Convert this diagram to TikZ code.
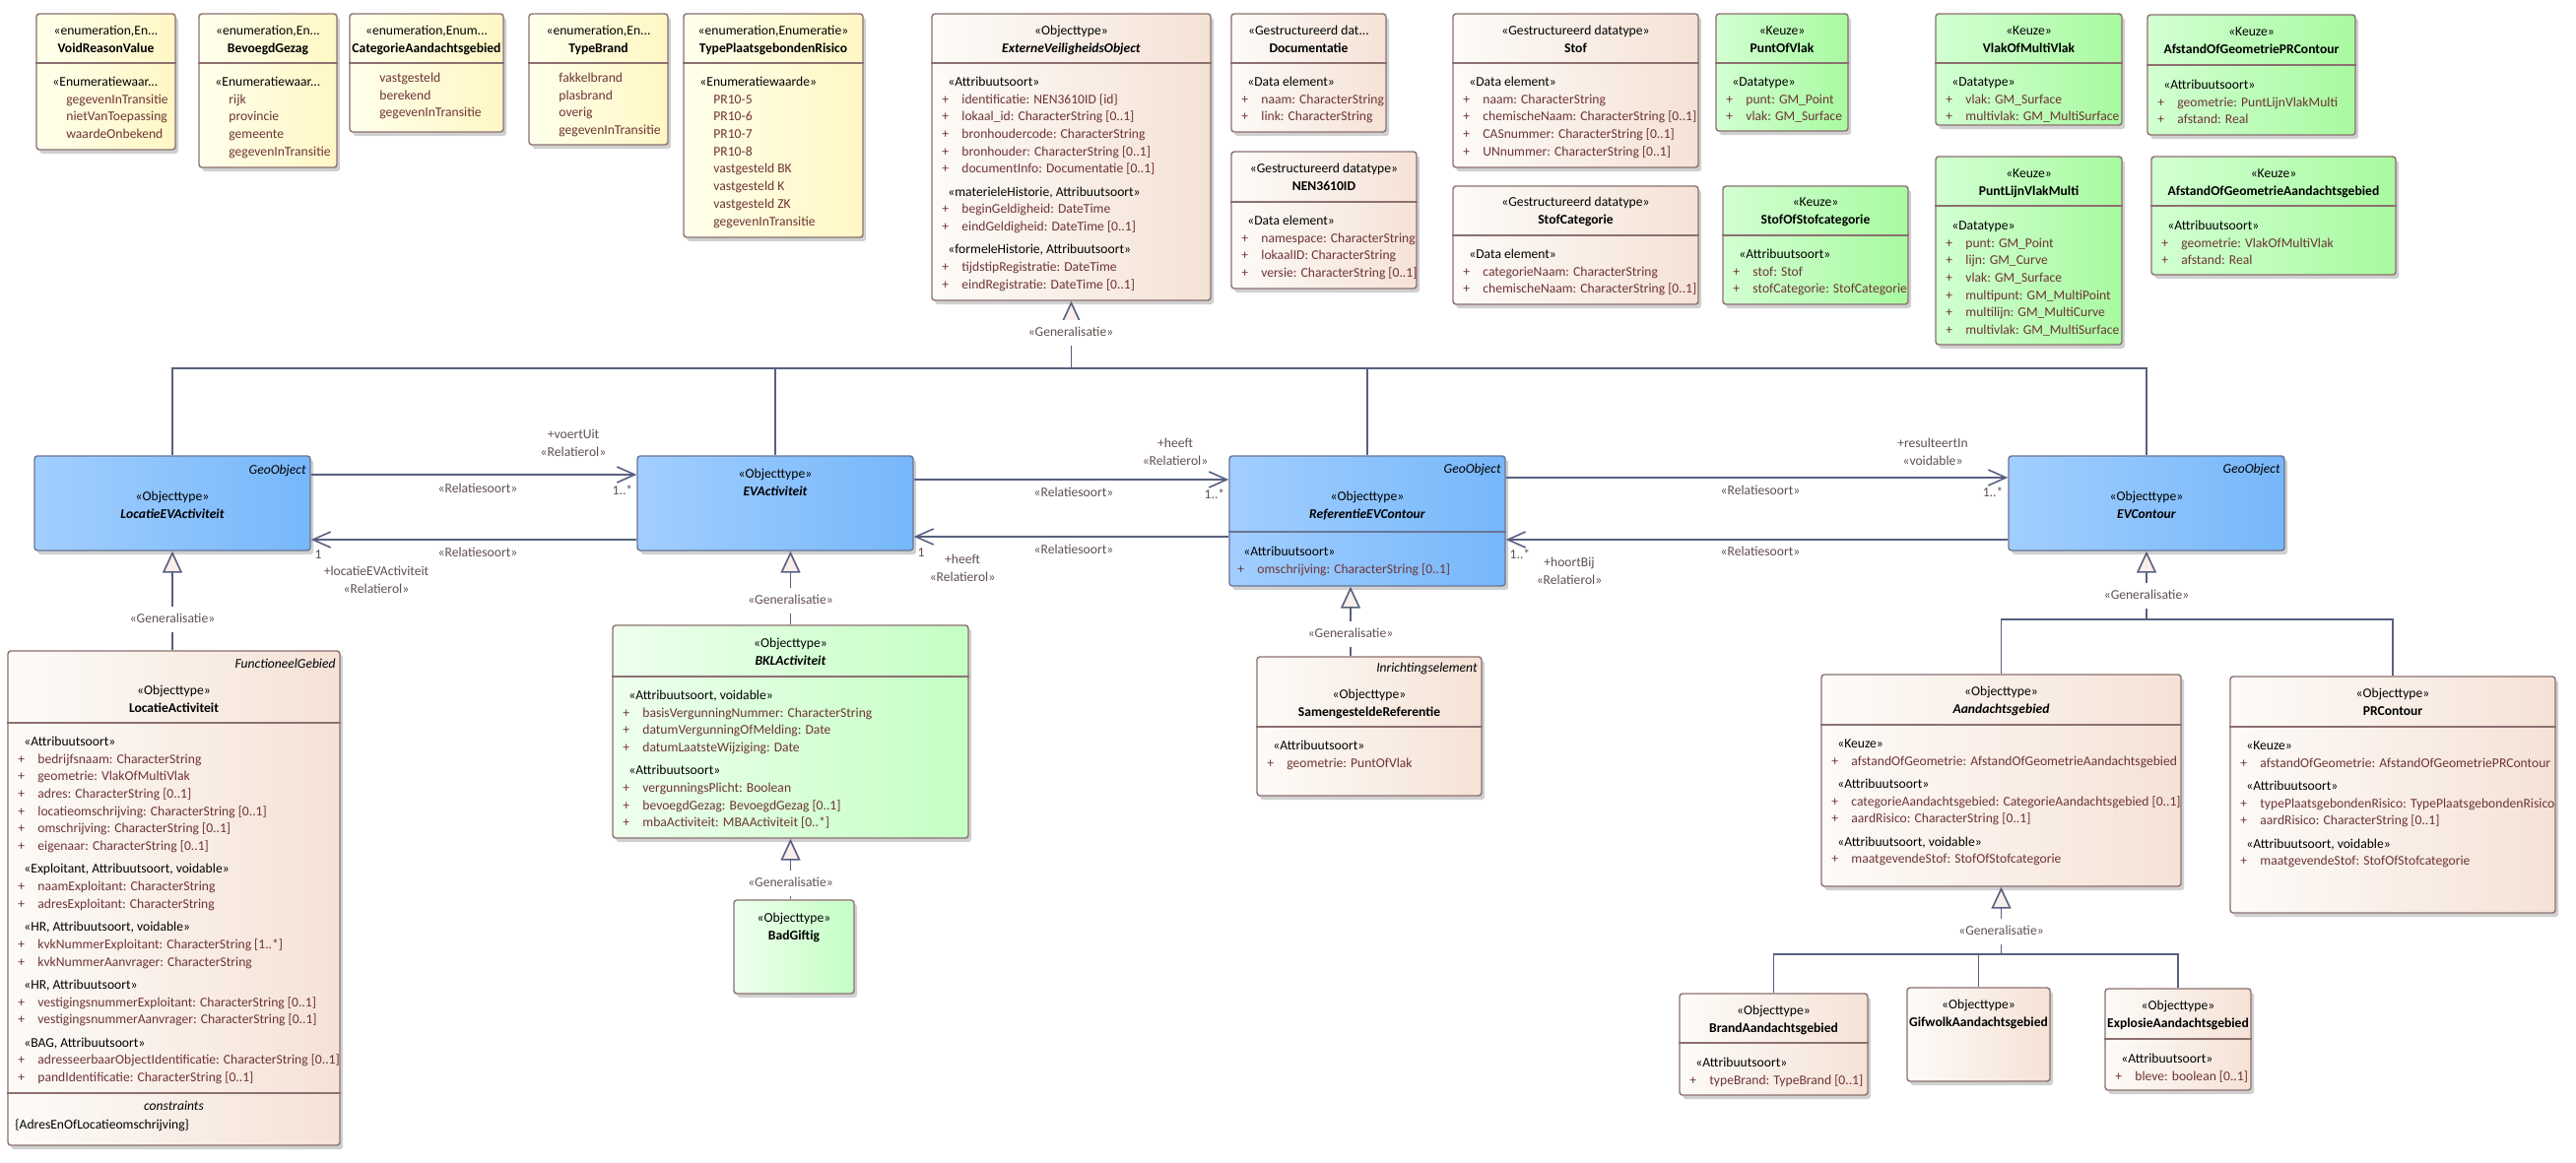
\documentclass[tikz,border=0pt]{standalone}
\usepackage{fontspec}
\setmainfont{Carlito}
\usetikzlibrary{arrows.meta,fit,shadows,calc}

\definecolor{enumL}{RGB}{255,255,236}
\definecolor{enumR}{RGB}{255,247,196}
\definecolor{peachL}{RGB}{253,251,248}
\definecolor{peachR}{RGB}{245,226,214}
\definecolor{keuzeL}{RGB}{210,255,210}
\definecolor{keuzeR}{RGB}{168,250,160}
\definecolor{bklL}{RGB}{238,255,238}
\definecolor{bklR}{RGB}{196,255,196}
\definecolor{blueL}{RGB}{162,206,255}
\definecolor{blueR}{RGB}{118,183,250}
\definecolor{boxline}{RGB}{140,112,112}
\definecolor{blueline}{RGB}{104,118,150}
\definecolor{conn}{RGB}{88,96,128}
\definecolor{attrtxt}{RGB}{110,52,52}
\definecolor{lbltxt}{RGB}{96,80,80}
\definecolor{genfill}{RGB}{248,238,234}

\newcommand\umlfont{\fontsize{6.8}{8.85}\selectfont}
\newcommand\ster[1]{\strut\hspace*{3pt}«#1»}
\newcommand\attr[1]{\strut\textcolor{attrtxt}{\makebox[10pt][l]{+}#1}}
\newcommand\val[1]{\strut\hspace*{10pt}\textcolor{attrtxt}{#1}}

\begin{document}
\begin{tikzpicture}[x=0.5pt,y=-0.5pt,
  box/.style={draw=boxline,line width=0.7pt,rounded corners=1.5pt,inner sep=0pt,
    drop shadow={shadow xshift=1.6pt,shadow yshift=-2pt,opacity=0.3,fill=black!60}},
  enumbox/.style={box,left color=enumL,right color=enumR},
  peachbox/.style={box,left color=peachL,right color=peachR},
  keuzebox/.style={box,left color=keuzeL,right color=keuzeR},
  lightgreen/.style={box,left color=bklL,right color=bklR},
  geobox/.style={box,draw=blueline,left color=blueL,right color=blueR},
  divider/.style={draw=boxline,line width=0.6pt},
  hd/.style={anchor=north,align=center,inner sep=0pt,font=\umlfont},
  body/.style={anchor=north west,align=left,inner sep=0pt,font=\umlfont},
  tag/.style={anchor=north east,inner sep=0pt,font=\umlfont\itshape},
  link/.style={draw=conn,line width=0.8pt},
  genarrow/.style={link,-{Triangle[length=11pt,width=10pt,fill=genfill]}},
  assoc/.style={link,-{Straight Barb[length=9pt,width=8pt]}},
  lbl/.style={anchor=north,align=center,inner sep=0pt,font=\umlfont,text=lbltxt},
  genlbl/.style={lbl,fill=white,inner ysep=2pt,inner xsep=1pt}]
\path[use as bounding box,fill=white] (0,0) rectangle (2615,1180);

% enumerations
\node[enumbox,fit={(37,14)(178,152)}] (void) {};
\draw[divider] (void.west |- 0,64) -- (void.east |- 0,64);
\node[hd] at (107.5,22.6) {\strut«enumeration,En...\\\strut\textbf{VoidReasonValue}};
\node[body] at (47,74.6) {\strut\hspace*{3pt}«Enumeratiewaar...\\\val{gegevenInTransitie}\\\val{nietVanToepassing}\\\val{waardeOnbekend}};

\node[enumbox,fit={(202,14)(342,170)}] (bevoegd) {};
\draw[divider] (bevoegd.west |- 0,64) -- (bevoegd.east |- 0,64);
\node[hd] at (272,22.6) {\strut«enumeration,En...\\\strut\textbf{BevoegdGezag}};
\node[body] at (212,74.6) {\strut\hspace*{3pt}«Enumeratiewaar...\\\val{rijk}\\\val{provincie}\\\val{gemeente}\\\val{gegevenInTransitie}};

\node[enumbox,fit={(355,14)(511,134)}] (catgebied) {};
\draw[divider] (catgebied.west |- 0,64) -- (catgebied.east |- 0,64);
\node[hd] at (433,22.6) {\strut«enumeration,Enum...\\\strut\textbf{CategorieAandachtsgebied}};
\node[body] at (365,70.6) {\val{vastgesteld}\\\val{berekend}\\\val{gegevenInTransitie}};

\node[enumbox,fit={(537,14)(678,147)}] (typebrand) {};
\draw[divider] (typebrand.west |- 0,64) -- (typebrand.east |- 0,64);
\node[hd] at (607.5,22.6) {\strut«enumeration,En...\\\strut\textbf{TypeBrand}};
\node[body] at (547,70.6) {\val{fakkelbrand}\\\val{plasbrand}\\\val{overig}\\\val{gegevenInTransitie}};

\node[enumbox,fit={(694,14)(876,241)}] (typepr) {};
\draw[divider] (typepr.west |- 0,64) -- (typepr.east |- 0,64);
\node[hd] at (785,22.6) {\strut«enumeration,Enumeratie»\\\strut\textbf{TypePlaatsgebondenRisico}};
\node[body] at (704,74.6) {\ster{Enumeratiewaarde}\\\val{PR10-5}\\\val{PR10-6}\\\val{PR10-7}\\\val{PR10-8}\\\val{vastgesteld BK}\\\val{vastgesteld K}\\\val{vastgesteld ZK}\\\val{gegevenInTransitie}};

% data types
\node[peachbox,fit={(946,14)(1229,305)}] (evo) {};
\draw[divider] (evo.west |- 0,64) -- (evo.east |- 0,64);
\node[hd] at (1087.5,22.6) {\strut«Objecttype»\\\strut\textbf{\textit{ExterneVeiligheidsObject}}};
\node[body] at (956,74.6) {\ster{Attribuutsoort}\\\attr{identificatie: NEN3610ID \{id\}}\\\attr{lokaal\_id: CharacterString [0..1]}\\\attr{bronhoudercode: CharacterString}\\\attr{bronhouder: CharacterString [0..1]}\\\attr{documentInfo: Documentatie [0..1]}\\[2.8pt]\ster{materieleHistorie, Attribuutsoort}\\\attr{beginGeldigheid: DateTime}\\\attr{eindGeldigheid: DateTime [0..1]}\\[2.8pt]\ster{formeleHistorie, Attribuutsoort}\\\attr{tijdstipRegistratie: DateTime}\\\attr{eindRegistratie: DateTime [0..1]}};

\node[peachbox,fit={(1250,14)(1407,134)}] (doc) {};
\draw[divider] (doc.west |- 0,64) -- (doc.east |- 0,64);
\node[hd] at (1328.5,22.6) {\strut«Gestructureerd dat...\\\strut\textbf{Documentatie}};
\node[body] at (1260,74.6) {\ster{Data element}\\\attr{naam: CharacterString}\\\attr{link: CharacterString}};

\node[peachbox,fit={(1250,154)(1438,293)}] (nen) {};
\draw[divider] (nen.west |- 0,205) -- (nen.east |- 0,205);
\node[hd] at (1344,162.6) {\strut«Gestructureerd datatype»\\\strut\textbf{NEN3610ID}};
\node[body] at (1260,215.6) {\ster{Data element}\\\attr{namespace: CharacterString}\\\attr{lokaalID: CharacterString}\\\attr{versie: CharacterString [0..1]}};

\node[peachbox,fit={(1475,14)(1724,170)}] (stof) {};
\draw[divider] (stof.west |- 0,64) -- (stof.east |- 0,64);
\node[hd] at (1599.5,22.6) {\strut«Gestructureerd datatype»\\\strut\textbf{Stof}};
\node[body] at (1485,74.6) {\ster{Data element}\\\attr{naam: CharacterString}\\\attr{chemischeNaam: CharacterString [0..1]}\\\attr{CASnummer: CharacterString [0..1]}\\\attr{UNnummer: CharacterString [0..1]}};

\node[peachbox,fit={(1475,189)(1724,309)}] (stofcat) {};
\draw[divider] (stofcat.west |- 0,239) -- (stofcat.east |- 0,239);
\node[hd] at (1599.5,196.6) {\strut«Gestructureerd datatype»\\\strut\textbf{StofCategorie}};
\node[body] at (1485,249.6) {\ster{Data element}\\\attr{categorieNaam: CharacterString}\\\attr{chemischeNaam: CharacterString [0..1]}};

% keuze types
\node[keuzebox,fit={(1742,14)(1876,133)}] (puntofvlak) {};
\draw[divider] (puntofvlak.west |- 0,64) -- (puntofvlak.east |- 0,64);
\node[hd] at (1809,22.6) {\strut«Keuze»\\\strut\textbf{PuntOfVlak}};
\node[body] at (1752,74.6) {\ster{Datatype}\\\attr{punt: GM\_Point}\\\attr{vlak: GM\_Surface}};

\node[keuzebox,fit={(1749,189)(1937,309)}] (stofofcat) {};
\draw[divider] (stofofcat.west |- 0,239) -- (stofofcat.east |- 0,239);
\node[hd] at (1843,196.6) {\strut«Keuze»\\\strut\textbf{StofOfStofcategorie}};
\node[body] at (1759,249.6) {\ster{Attribuutsoort}\\\attr{stof: Stof}\\\attr{stofCategorie: StofCategorie}};

\node[keuzebox,fit={(1965,14)(2154,127)}] (vlakofmulti) {};
\draw[divider] (vlakofmulti.west |- 0,64) -- (vlakofmulti.east |- 0,64);
\node[hd] at (2059.5,22.6) {\strut«Keuze»\\\strut\textbf{VlakOfMultiVlak}};
\node[body] at (1975,74.6) {\ster{Datatype}\\\attr{vlak: GM\_Surface}\\\attr{multivlak: GM\_MultiSurface}};

\node[keuzebox,fit={(2180,15)(2391,137)}] (afstandpr) {};
\draw[divider] (afstandpr.west |- 0,66) -- (afstandpr.east |- 0,66);
\node[hd] at (2285.5,23.6) {\strut«Keuze»\\\strut\textbf{AfstandOfGeometriePRContour}};
\node[body] at (2190,77.6) {\ster{Attribuutsoort}\\\attr{geometrie: PuntLijnVlakMulti}\\\attr{afstand: Real}};

\node[keuzebox,fit={(1965,159)(2154,350)}] (puntlijn) {};
\draw[divider] (puntlijn.west |- 0,209) -- (puntlijn.east |- 0,209);
\node[hd] at (2059.5,167.6) {\strut«Keuze»\\\strut\textbf{PuntLijnVlakMulti}};
\node[body] at (1975,220.6) {\ster{Datatype}\\\attr{punt: GM\_Point}\\\attr{lijn: GM\_Curve}\\\attr{vlak: GM\_Surface}\\\attr{multipunt: GM\_MultiPoint}\\\attr{multilijn: GM\_MultiCurve}\\\attr{multivlak: GM\_MultiSurface}};

\node[keuzebox,fit={(2184,159)(2432,279)}] (afstandaa) {};
\draw[divider] (afstandaa.west |- 0,209) -- (afstandaa.east |- 0,209);
\node[hd] at (2308,167.6) {\strut«Keuze»\\\strut\textbf{AfstandOfGeometrieAandachtsgebied}};
\node[body] at (2194,220.6) {\ster{Attribuutsoort}\\\attr{geometrie: VlakOfMultiVlak}\\\attr{afstand: Real}};

% GeoObject classes
\node[geobox,fit={(35,463)(315,559)}] (locev) {};
\node[tag] at (311,468.6) {\strut GeoObject};
\node[hd] at (175,495.6) {\strut«Objecttype»\\\strut\textbf{\textit{LocatieEVActiviteit}}};

\node[geobox,fit={(647,463)(927,559)}] (evact) {};
\node[hd] at (787,472.6) {\strut«Objecttype»\\\strut\textbf{\textit{EVActiviteit}}};

\node[geobox,fit={(1248,463)(1528,595)}] (refev) {};
\draw[divider,draw=blueline] (refev.west |- 0,540) -- (refev.east |- 0,540);
\node[tag] at (1524,467.6) {\strut GeoObject};
\node[hd] at (1388,495.6) {\strut«Objecttype»\\\strut\textbf{\textit{ReferentieEVContour}}};
\node[body] at (1256,551.6) {\ster{Attribuutsoort}\\\attr{omschrijving: CharacterString [0..1]}};

\node[geobox,fit={(2039,463)(2319,559)}] (evcont) {};
\node[tag] at (2315,467.6) {\strut GeoObject};
\node[hd] at (2179,495.6) {\strut«Objecttype»\\\strut\textbf{\textit{EVContour}}};

% subtypes
\node[peachbox,fit={(8,661)(345,1163)}] (locact) {};
\draw[divider] (locact.west |- 0,734) -- (locact.east |- 0,734);
\draw[divider] (locact.west |- 0,1110) -- (locact.east |- 0,1110);
\node[tag] at (341,665.6) {\strut FunctioneelGebied};
\node[hd] at (176.5,692.6) {\strut«Objecttype»\\\strut\textbf{LocatieActiviteit}};
\node[body] at (18,744.6) {\ster{Attribuutsoort}\\\attr{bedrijfsnaam: CharacterString}\\\attr{geometrie: VlakOfMultiVlak}\\\attr{adres: CharacterString [0..1]}\\\attr{locatieomschrijving: CharacterString [0..1]}\\\attr{omschrijving: CharacterString [0..1]}\\\attr{eigenaar: CharacterString [0..1]}\\[2.8pt]\ster{Exploitant, Attribuutsoort, voidable}\\\attr{naamExploitant: CharacterString}\\\attr{adresExploitant: CharacterString}\\[2.8pt]\ster{HR, Attribuutsoort, voidable}\\\attr{kvkNummerExploitant: CharacterString [1..*]}\\\attr{kvkNummerAanvrager: CharacterString}\\[2.8pt]\ster{HR, Attribuutsoort}\\\attr{vestigingsnummerExploitant: CharacterString [0..1]}\\\attr{vestigingsnummerAanvrager: CharacterString [0..1]}\\[2.8pt]\ster{BAG, Attribuutsoort}\\\attr{adresseerbaarObjectIdentificatie: CharacterString [0..1]}\\\attr{pandIdentificatie: CharacterString [0..1]}};
\node[hd] at (176.5,1114.6) {\strut\textit{constraints}};
\node[body] at (15,1133.6) {\strut\{AdresEnOfLocatieomschrijving\}};

\node[lightgreen,fit={(622,635)(983,851)}] (bkl) {};
\draw[divider] (bkl.west |- 0,687) -- (bkl.east |- 0,687);
\node[hd] at (802.5,644.6) {\strut«Objecttype»\\\strut\textbf{\textit{BKLActiviteit}}};
\node[body] at (632,697.6) {\ster{Attribuutsoort, voidable}\\\attr{basisVergunningNummer: CharacterString}\\\attr{datumVergunningOfMelding: Date}\\\attr{datumLaatsteWijziging: Date}\\[2.8pt]\ster{Attribuutsoort}\\\attr{vergunningsPlicht: Boolean}\\\attr{bevoegdGezag: BevoegdGezag [0..1]}\\\attr{mbaActiviteit: MBAActiviteit [0..*]}};

\node[lightgreen,fit={(745,914)(867,1009)}] (badgiftig) {};
\node[hd] at (806,923.6) {\strut«Objecttype»\\\strut\textbf{BadGiftig}};

\node[peachbox,fit={(1276,667)(1504,808)}] (samen) {};
\draw[divider] (samen.west |- 0,738) -- (samen.east |- 0,738);
\node[tag] at (1500,669.6) {\strut Inrichtingselement};
\node[hd] at (1390,696.6) {\strut«Objecttype»\\\strut\textbf{SamengesteldeReferentie}};
\node[body] at (1286,748.6) {\ster{Attribuutsoort}\\\attr{geometrie: PuntOfVlak}};

\node[peachbox,fit={(1849,685)(2214,900)}] (aandacht) {};
\draw[divider] (aandacht.west |- 0,736) -- (aandacht.east |- 0,736);
\node[hd] at (2031.5,693.6) {\strut«Objecttype»\\\strut\textbf{\textit{Aandachtsgebied}}};
\node[body] at (1859,746.6) {\ster{Keuze}\\\attr{afstandOfGeometrie: AfstandOfGeometrieAandachtsgebied}\\[2.8pt]\ster{Attribuutsoort}\\\attr{categorieAandachtsgebied: CategorieAandachtsgebied [0..1]}\\\attr{aardRisico: CharacterString [0..1]}\\[2.8pt]\ster{Attribuutsoort, voidable}\\\attr{maatgevendeStof: StofOfStofcategorie}};

\node[peachbox,fit={(2264,687)(2594,927)}] (prcontour) {};
\draw[divider] (prcontour.west |- 0,738) -- (prcontour.east |- 0,738);
\node[hd] at (2429,695.6) {\strut«Objecttype»\\\strut\textbf{PRContour}};
\node[body] at (2274,748.6) {\ster{Keuze}\\\attr{afstandOfGeometrie: AfstandOfGeometriePRContour}\\[2.8pt]\ster{Attribuutsoort}\\\attr{typePlaatsgebondenRisico: TypePlaatsgebondenRisico}\\\attr{aardRisico: CharacterString [0..1]}\\[2.8pt]\ster{Attribuutsoort, voidable}\\\attr{maatgevendeStof: StofOfStofcategorie}};

\node[peachbox,fit={(1705,1009)(1896,1112)}] (brand) {};
\draw[divider] (brand.west |- 0,1059) -- (brand.east |- 0,1059);
\node[hd] at (1800.5,1017.6) {\strut«Objecttype»\\\strut\textbf{BrandAandachtsgebied}};
\node[body] at (1715,1070.6) {\ster{Attribuutsoort}\\\attr{typeBrand: TypeBrand [0..1]}};

\node[peachbox,fit={(1936,1003)(2081,1098)}] (gifwolk) {};
\node[hd] at (2008.5,1011.6) {\strut«Objecttype»\\\strut\textbf{GifwolkAandachtsgebied}};

\node[peachbox,fit={(2137,1004)(2285,1107)}] (explosie) {};
\draw[divider] (explosie.west |- 0,1055) -- (explosie.east |- 0,1055);
\node[hd] at (2211,1012.6) {\strut«Objecttype»\\\strut\textbf{ExplosieAandachtsgebied}};
\node[body] at (2147,1066.6) {\ster{Attribuutsoort}\\\attr{bleve: boolean [0..1]}};

% generalisations
\draw[genarrow] (evo.south |- 0,374) -- (evo.south);
\draw[link] (locev.north) |- (evcont.north |- 0,374) -- (evcont.north);
\draw[link] (evact.north) -- (evact.north |- 0,374);
\draw[link] (refev.north) -- (refev.north |- 0,374);
\node[genlbl] at (1087,324.6) {\strut«Generalisatie»};

\draw[genarrow] (locev.south |- locact.north) -- (locev.south);
\node[genlbl] at (175,615.6) {\strut«Generalisatie»};
\draw[genarrow] (bkl.north) -- (bkl.north |- evact.south);
\node[genlbl] at (802.5,596.6) {\strut«Generalisatie»};
\draw[genarrow] (badgiftig.north -| bkl.south) -- (bkl.south);
\node[genlbl] at (802.5,883.6) {\strut«Generalisatie»};
\draw[genarrow] ($(samen.north)+(-19,0)$) -- ($(samen.north |- refev.south)+(-19,0)$);
\node[genlbl] at (1371,630.6) {\strut«Generalisatie»};

\draw[genarrow] (evcont.south |- 0,629) -- (evcont.south);
\draw[link] (aandacht.north) |- (prcontour.north |- 0,629) -- (prcontour.north);
\node[genlbl] at (2179,591.6) {\strut«Generalisatie»};

\draw[genarrow] (aandacht.south |- 0,969) -- (aandacht.south);
\draw[link] (brand.north) |- (explosie.north |- 0,969) -- (explosie.north);
\draw[link] (gifwolk.north) -- (gifwolk.north |- 0,969);
\node[genlbl] at (2031.5,932.6) {\strut«Generalisatie»};

% associations
\draw[assoc] (locev.east |- 0,482) -- (evact.west |- 0,482);
\node[lbl] at (582,432.6) {\strut+voertUit\\\strut«Relatierol»};
\node[lbl] at (485,487.6) {\strut«Relatiesoort»};
\node[lbl] at (632,489.6) {\strut1..*};
\draw[assoc] (evact.west |- 0,548) -- (locev.east |- 0,548);
\node[lbl] at (485,552.6) {\strut«Relatiesoort»};
\node[lbl] at (323,554.6) {\strut1};
\node[lbl] at (382,571.6) {\strut+locatieEVActiviteit\\\strut«Relatierol»};

\draw[assoc] (evact.east |- 0,487) -- (refev.west |- 0,487);
\node[lbl] at (1193,441.6) {\strut+heeft\\\strut«Relatierol»};
\node[lbl] at (1090,491.6) {\strut«Relatiesoort»};
\node[lbl] at (1233,493.6) {\strut1..*};
\draw[assoc] (refev.west |- 0,545) -- (evact.east |- 0,545);
\node[lbl] at (1090,549.6) {\strut«Relatiesoort»};
\node[lbl] at (935,552.6) {\strut1};
\node[lbl] at (977,559.6) {\strut+heeft\\\strut«Relatierol»};

\draw[assoc] (refev.east |- 0,485) -- (evcont.west |- 0,485);
\node[lbl] at (1962,441.6) {\strut+resulteertIn\\\strut«voidable»};
\node[lbl] at (1787,489.6) {\strut«Relatiesoort»};
\node[lbl] at (2023,491.6) {\strut1..*};
\draw[assoc] (evcont.west |- 0,548) -- (refev.east |- 0,548);
\node[lbl] at (1787,551.6) {\strut«Relatiesoort»};
\node[lbl] at (1543,554.6) {\strut1..*};
\node[lbl] at (1593,562.6) {\strut+hoortBij\\\strut«Relatierol»};
\end{tikzpicture}
\end{document}
